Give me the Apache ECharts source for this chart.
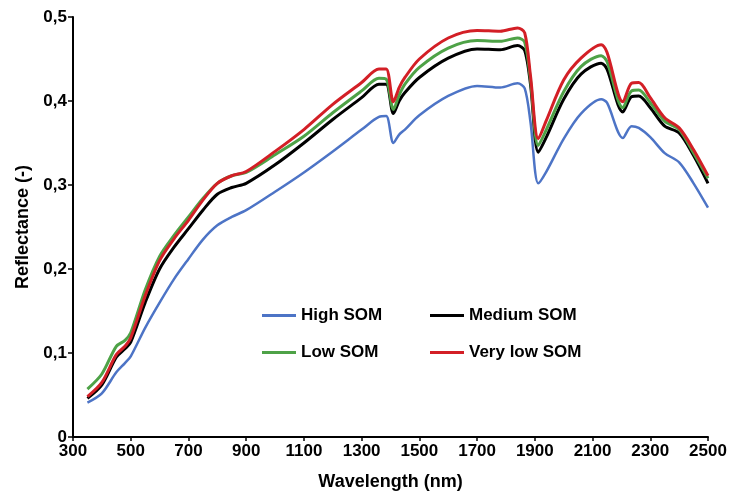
<!DOCTYPE html>
<html>
<head>
<meta charset="utf-8">
<script src="https://cdn.jsdelivr.net/npm/echarts@6/dist/echarts.min.js"></script>
<style>
  html, body { margin: 0; padding: 0; background: #fff; }
  #chart { width: 730px; height: 497px; }
</style>
</head>
<body>
<div id="chart"></div>
<script>
let wavelengths = [350, 400, 450, 480, 500, 550, 600, 650, 700, 750, 800, 850, 900,
    1000, 1100, 1200, 1300, 1360, 1385, 1410, 1430, 1450, 1500, 1600, 1700, 1780,
    1840, 1865, 1885, 1912, 1940, 2000, 2060, 2130, 2150, 2205, 2235, 2260, 2300,
    2350, 2400, 2450, 2500];

let highSOM = [0.041, 0.052, 0.077, 0.088, 0.096, 0.130, 0.160, 0.188, 0.212, 0.235, 0.252, 0.262, 0.270,
    0.292, 0.315, 0.340, 0.366, 0.381, 0.382, 0.350, 0.360, 0.366, 0.383, 0.406, 0.418, 0.416,
    0.421, 0.415, 0.375, 0.302, 0.316, 0.355, 0.385, 0.402, 0.398, 0.356, 0.370, 0.368, 0.357,
    0.338, 0.327, 0.302, 0.273];

let mediumSOM = [0.046, 0.062, 0.095, 0.105, 0.113, 0.160, 0.200, 0.226, 0.248, 0.270, 0.289, 0.297, 0.302,
    0.324, 0.350, 0.378, 0.404, 0.420, 0.420, 0.385, 0.400, 0.410, 0.428, 0.451, 0.462, 0.461,
    0.466, 0.460, 0.420, 0.339, 0.357, 0.402, 0.432, 0.445, 0.438, 0.387, 0.405, 0.406, 0.392,
    0.370, 0.362, 0.335, 0.302];

let lowSOM = [0.057, 0.075, 0.108, 0.115, 0.124, 0.175, 0.215, 0.240, 0.262, 0.284, 0.302, 0.311, 0.315,
    0.336, 0.358, 0.386, 0.412, 0.427, 0.426, 0.390, 0.407, 0.420, 0.440, 0.463, 0.472, 0.471,
    0.475, 0.470, 0.425, 0.347, 0.366, 0.411, 0.441, 0.454, 0.447, 0.392, 0.412, 0.413, 0.398,
    0.376, 0.366, 0.338, 0.308];

let veryLowSOM = [0.048, 0.065, 0.098, 0.108, 0.118, 0.168, 0.210, 0.236, 0.258, 0.282, 0.302, 0.311, 0.316,
    0.340, 0.366, 0.396, 0.422, 0.438, 0.438, 0.399, 0.416, 0.428, 0.450, 0.475, 0.484, 0.483,
    0.487, 0.481, 0.430, 0.355, 0.377, 0.425, 0.451, 0.467, 0.458, 0.399, 0.421, 0.422, 0.404,
    0.380, 0.368, 0.342, 0.311];

let seriesNames = ['High SOM', 'Medium SOM', 'Low SOM', 'Very low SOM'];
let seriesValues = [highSOM, mediumSOM, lowSOM, veryLowSOM];
let seriesColors = ['#4d74c6', '#000000', '#4ea247', '#d31f26'];
let seriesWidths = [2.5, 3, 3, 3];

let font = 'Liberation Sans, Arial, sans-serif';

let series = seriesNames.map(function(name, i){
    return {
        name: name,
        type: 'line',
        symbol: 'none',
        smooth: 0.3,
        color: seriesColors[i],
        lineStyle: { width: seriesWidths[i], color: seriesColors[i] },
        data: wavelengths.map(function(w, j){ return [w, seriesValues[i][j]]; })
    };
});

let legendItem = function(name, left, top){
    return {
        data: [name],
        left: left,
        top: top,
        padding: 0,
        icon: 'rect',
        itemWidth: 34,
        itemHeight: 3,
        itemGap: 0,
        textStyle: { fontFamily: font, fontWeight: 'bold', fontSize: 17, color: '#000' }
    };
};

let myChart = echarts.init(document.getElementById('chart'));
let option = {
    animation: false,
    backgroundColor: '#fff',
    grid: { left: 73, right: 22, top: 17, bottom: 60 },
    legend: [
        legendItem('High SOM', 262, 307),
        legendItem('Medium SOM', 430, 307),
        legendItem('Low SOM', 262, 344),
        legendItem('Very low SOM', 430, 344)
    ],
    xAxis: {
        type: 'value',
        min: 300,
        max: 2500,
        interval: 200,
        name: 'Wavelength (nm)',
        nameLocation: 'middle',
        nameGap: 36,
        nameTextStyle: { fontFamily: font, fontWeight: 'bold', fontSize: 18, color: '#000' },
        axisLine: { lineStyle: { color: '#000', width: 2 } },
        axisTick: { show: true, length: 4, lineStyle: { color: '#000', width: 1.5 } },
        axisLabel: {
            fontFamily: font, fontWeight: 'bold', fontSize: 17, color: '#000', margin: 6,
            formatter: function(v){ return String(v); }
        },
        splitLine: { show: false }
    },
    yAxis: {
        type: 'value',
        min: 0,
        max: 0.5,
        interval: 0.1,
        name: 'Reflectance (-)',
        nameLocation: 'middle',
        nameGap: 41,
        nameRotate: 90,
        nameTextStyle: { fontFamily: font, fontWeight: 'bold', fontSize: 18, color: '#000' },
        axisLine: { show: true, lineStyle: { color: '#000', width: 2 } },
        axisTick: { show: true, length: 5, lineStyle: { color: '#000', width: 1.5 } },
        axisLabel: {
            fontFamily: font, fontWeight: 'bold', fontSize: 17, color: '#000', margin: 6,
            formatter: function(v){ return v === 0 ? '0' : v.toFixed(1).replace('.', ','); }
        },
        splitLine: { show: false }
    },
    series: series
};
myChart.setOption(option);
</script>
</body>
</html>
